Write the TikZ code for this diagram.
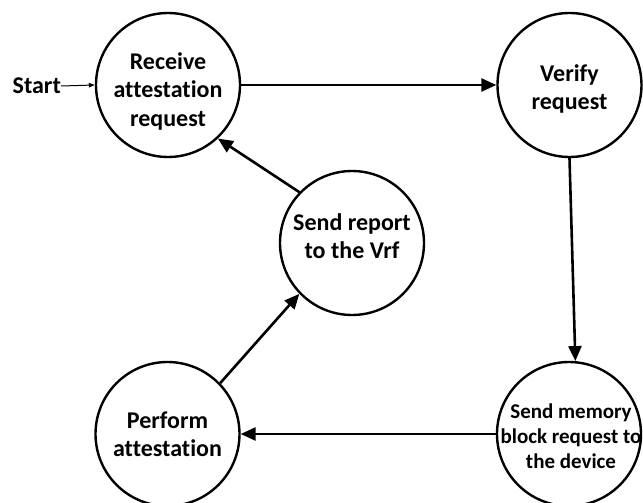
\documentclass[tikz,border=0pt]{standalone}
\usepackage{fontspec}
\setmainfont{Carlito}[Ligatures=NoCommon]
\usetikzlibrary{arrows.meta}
\begin{document}
\begin{tikzpicture}[x=1pt,y=-1pt,
  label text/.style={font=\fontsize{24}{28.5}\selectfont\bfseries},
  small text/.style={font=\fontsize{21}{25}\selectfont\bfseries},
  state/.style={circle,draw,line width=2.4pt,minimum size=144pt,inner sep=0pt},
  caption/.style={align=center,inner sep=0pt,label text},
  flow/.style={line width=2.6pt,-{Triangle[length=15pt,width=13pt]}},
  thin/.style={line width=1pt,-{Triangle[length=6pt,width=4.5pt]}}]
  \useasboundingbox (0,0) rectangle (643,503);
  % states of the attestation cycle, each caption set a little off centre
  \node[state,label={[caption,yshift=-6pt]center:{Receive\\attestation\\request}}]
    (recv) at (168,85) {};
  \node[state,label={[caption,yshift=-4pt]center:{Verify\\request}}]
    (verify) at (569.5,85) {};
  \node[state,label={[caption,yshift=7pt]center:{Send report\\to the Vrf}}]
    (report) at (352,243) {};
  \node[state,label={[caption]center:{Perform\\attestation}}]
    (perform) at (167.5,434) {};
  \node[state,label={[caption,small text,xshift=2pt,yshift=-2pt]center:{Send memory\\block request to\\the device}}]
    (memory) at (569,434) {};
  % entry point
  \node[label text,anchor=east,inner sep=0pt] (start) at (61,86) {Start};
  \draw[thin] (start.east) -- (recv.west);
  % transitions
  \draw[flow] (recv.east) -- (verify.west);
  \draw[flow] (verify.270) -- (memory.85);
  \draw[flow] (memory.west) -- (perform.east);
  \draw[flow] (perform.44) -- (report.224);
  \draw[flow] (report.136) -- (recv.313);
\end{tikzpicture}
\end{document}
